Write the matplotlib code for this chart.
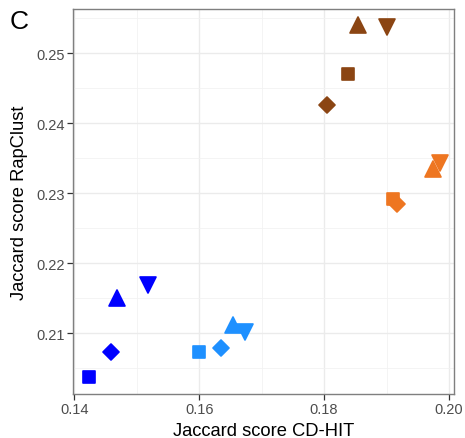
import matplotlib
matplotlib.use('Agg')
import matplotlib.pyplot as plt
from matplotlib.markers import MarkerStyle
from matplotlib.ticker import MultipleLocator

plt.rcParams['font.family'] = ['Liberation Sans', 'DejaVu Sans']

# four groups, each with four methods (square, diamond, up, down)
groups = ['dark_blue', 'light_blue', 'brown', 'orange']
colours = {'dark_blue': '#0000FF', 'light_blue': '#1E90FF',
           'brown': '#8B4513', 'orange': '#EE7621'}
shapes = ['s', 'D', '^', 'v']

cdhit = {
    'dark_blue':  [0.1424, 0.1459, 0.1469, 0.1518],
    'light_blue': [0.1600, 0.1635, 0.1654, 0.1674],
    'brown':      [0.1838, 0.1805, 0.1854, 0.1901],
    'orange':     [0.1910, 0.1917, 0.1974, 0.1985],
}
rapclust = {
    'dark_blue':  [0.2037, 0.2073, 0.2150, 0.2169],
    'light_blue': [0.2073, 0.2079, 0.2111, 0.2101],
    'brown':      [0.2470, 0.2426, 0.2540, 0.2537],
    'orange':     [0.2291, 0.2284, 0.2334, 0.2343],
}

sizes = {'s': 9.0, 'D': 8.6, '^': 11.8, 'v': 11.8}

fig = plt.figure(figsize=(4.65, 4.39), dpi=100)
ax = fig.add_axes([73 / 465, 1 - 395 / 439, 381 / 465, 385 / 439])

for g in groups:
    for x, y, m in zip(cdhit[g], rapclust[g], shapes):
        ax.plot([x], [y], marker=MarkerStyle(m, joinstyle='round'),
                color=colours[g], markersize=sizes[m],
                markeredgewidth=1.2, markeredgecolor=colours[g],
                linestyle='none', zorder=3)

ax.set_xlim(0.1398, 0.2008)
ax.set_ylim(0.2013, 0.2563)
ax.xaxis.set_major_locator(MultipleLocator(0.02))
ax.xaxis.set_minor_locator(MultipleLocator(0.01))
ax.yaxis.set_major_locator(MultipleLocator(0.01))
ax.yaxis.set_minor_locator(MultipleLocator(0.005))
ax.xaxis.set_major_formatter(plt.FuncFormatter(lambda v, p: '{:.2f}'.format(v)))
ax.yaxis.set_major_formatter(plt.FuncFormatter(lambda v, p: '{:.2f}'.format(v)))

ax.grid(which='major', color='#EBEBEB', linewidth=1.0, zorder=0)
ax.grid(which='minor', color='#F2F2F2', linewidth=0.6, zorder=0)
ax.set_axisbelow(True)
for sp in ax.spines.values():
    sp.set_color('#7F7F7F')
    sp.set_linewidth(1.0)

ax.tick_params(which='major', length=4, width=0.9, color='#333333',
               labelsize=10.5, labelcolor='#4D4D4D', pad=2)
ax.tick_params(which='minor', length=0)

ax.set_xlabel('Jaccard score CD-HIT', fontsize=13.2, color='black', labelpad=4)
ax.set_ylabel('Jaccard score RapClust', fontsize=13.2, color='black', labelpad=6)

fig.text(10 / 465, 1 - 22 / 439, 'C', fontsize=19, va='center', ha='left')

fig.savefig('out.png', dpi=100)
